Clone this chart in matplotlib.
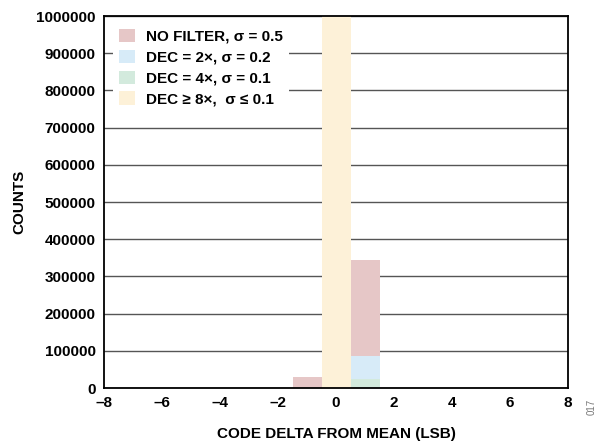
import matplotlib
matplotlib.use("Agg")
import matplotlib.pyplot as plt

plt.rcParams['font.family'] = ['Liberation Sans', 'DejaVu Sans']
plt.rcParams['font.weight'] = 'bold'

codes = [-1, 0, 1]
no_filter = [30000, 626000, 344000]
dec2 = [0, 914000, 86000]
dec4 = [0, 976000, 24000]
dec8 = [0, 1000000, 0]

labels = ["NO FILTER, σ = 0.5", "DEC = 2×, σ = 0.2", "DEC = 4×, σ = 0.1", "DEC ≥ 8×,  σ ≤ 0.1"]
colors = ["#E6C7C7", "#D7EBF8", "#D3EADD", "#FDF1D8"]

xticks = [-8, -6, -4, -2, 0, 2, 4, 6, 8]
yticks = [0, 100000, 200000, 300000, 400000, 500000, 600000, 700000, 800000, 900000, 1000000]

fig = plt.figure(figsize=(5.96, 4.42), dpi=100)
ax = fig.add_axes([104/596, 1-388/442, 464/596, 372/442])

for vals, lab, col in zip([no_filter, dec2, dec4, dec8], labels, colors):
    ax.bar(codes, vals, width=1.0, color=col, label=lab, zorder=2)

ax.set_xlim(-8, 8)
ax.set_ylim(0, 1000000)
ax.set_xticks(xticks)
ax.set_xticklabels([str(t).replace('-', '–') for t in xticks])
ax.set_yticks(yticks)
ax.set_yticklabels([str(t) for t in yticks])
ax.yaxis.grid(True, color='#555555', linewidth=1.0, zorder=1)
ax.set_axisbelow(True)
for s in ax.spines.values():
    s.set_linewidth(1.3)
ax.tick_params(axis='x', length=0, pad=6, labelsize=11)
ax.tick_params(axis='y', length=0, pad=6, labelsize=11)
for t in ax.get_xticklabels() + ax.get_yticklabels():
    t.set_fontweight('bold')

ax.set_xlabel("CODE DELTA FROM MEAN (LSB)", fontsize=11, fontweight='bold', labelpad=12)
ax.set_ylabel("COUNTS", fontsize=11, fontweight='bold', labelpad=7)

leg = ax.legend(loc='upper left', bbox_to_anchor=(0.02, 0.982), frameon=True,
                fontsize=11, handlelength=1.0, handleheight=1.0, handletextpad=0.75,
                labelspacing=0.38, borderaxespad=0.0)
leg.get_frame().set_facecolor('white')
leg.get_frame().set_edgecolor('none')
leg.get_frame().set_alpha(1.0)
for t in leg.get_texts():
    t.set_fontweight('bold')

fig.text(0.985, 0.065, "017", rotation=90, fontsize=7, color='#777777', fontweight='normal')

fig.savefig("out.png", dpi=100)
